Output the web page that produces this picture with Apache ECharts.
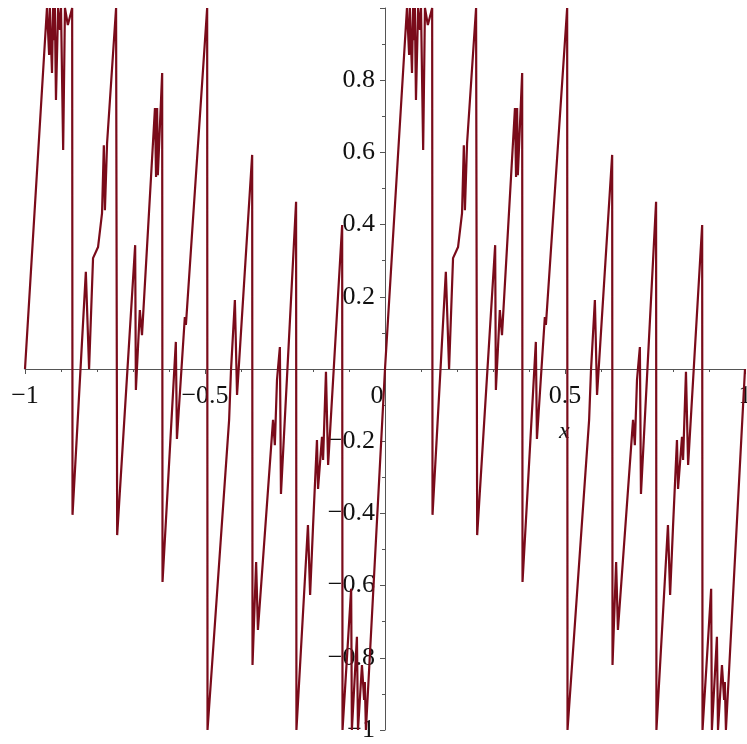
<!DOCTYPE html>
<html>
<head>
<meta charset="utf-8">
<script src="https://cdn.jsdelivr.net/npm/echarts@6/dist/echarts.min.js"></script>
<style>html,body{margin:0;padding:0;background:#fff}#c{width:747px;height:744px}</style>
</head>
<body>
<div id="c"></div>
<script>
// x in [-1, 0]
const leftX = [-1, -0.939, -0.933, -0.931, -0.925, -0.922, -0.919, -0.917, -0.914, -0.908, -0.903, -0.900, -0.894, -0.889, -0.881, -0.869, -0.868, -0.831, -0.822, -0.811, -0.797, -0.786, -0.781, -0.778, -0.772, -0.747, -0.744, -0.694, -0.692, -0.681, -0.675, -0.639, -0.636, -0.633, -0.631, -0.619, -0.618, -0.581, -0.578, -0.556, -0.553, -0.494, -0.493, -0.433, -0.428, -0.417, -0.411, -0.369, -0.368, -0.358, -0.353, -0.311, -0.306, -0.300, -0.292, -0.289, -0.247, -0.246, -0.214, -0.208, -0.200, -0.189, -0.186, -0.175, -0.172, -0.164, -0.158, -0.119, -0.118, -0.094, -0.092, -0.078, -0.075, -0.064, -0.058, -0.056, -0.053];
const leftY = [0, 1, 0.870, 1, 0.820, 1, 0.911, 1, 0.745, 1, 0.939, 1, 0.607, 1, 0.953, 1, -0.404, 0.269, 0.0, 0.307, 0.338, 0.432, 0.620, 0.440, 0.626, 1, -0.460, 0.343, -0.058, 0.163, 0.094, 0.723, 0.532, 0.723, 0.537, 0.820, -0.590, 0.075, -0.194, 0.144, 0.122, 1, -1, -0.141, -0.008, 0.191, -0.072, 0.593, -0.820, -0.535, -0.723, -0.141, -0.211, -0.030, 0.061, -0.346, 0.463, -1, -0.432, -0.626, -0.438, -0.197, -0.332, -0.188, -0.252, -0.008, -0.266, 0.399, -1, -0.609, -1, -0.742, -1, -0.820, -0.917, -0.867, -1];
// x in [0, 1]
const rightX = [0, 0.061, 0.067, 0.069, 0.075, 0.078, 0.081, 0.083, 0.086, 0.092, 0.097, 0.100, 0.106, 0.111, 0.119, 0.131, 0.132, 0.169, 0.178, 0.189, 0.203, 0.214, 0.219, 0.222, 0.228, 0.253, 0.256, 0.306, 0.308, 0.319, 0.325, 0.361, 0.364, 0.367, 0.369, 0.381, 0.382, 0.419, 0.422, 0.444, 0.447, 0.506, 0.507, 0.567, 0.572, 0.583, 0.589, 0.631, 0.632, 0.642, 0.647, 0.689, 0.694, 0.700, 0.708, 0.711, 0.753, 0.754, 0.786, 0.792, 0.800, 0.811, 0.814, 0.825, 0.828, 0.836, 0.842, 0.881, 0.882, 0.906, 0.908, 0.922, 0.925, 0.936, 0.942, 0.944, 0.947, 1.0];
const rightY = [0, 1, 0.870, 1, 0.820, 1, 0.911, 1, 0.745, 1, 0.939, 1, 0.607, 1, 0.953, 1, -0.404, 0.269, 0.0, 0.307, 0.338, 0.432, 0.620, 0.440, 0.626, 1, -0.460, 0.343, -0.058, 0.163, 0.094, 0.723, 0.532, 0.723, 0.537, 0.820, -0.590, 0.075, -0.194, 0.144, 0.122, 1, -1, -0.141, -0.008, 0.191, -0.072, 0.593, -0.820, -0.535, -0.723, -0.141, -0.211, -0.030, 0.061, -0.346, 0.463, -1, -0.432, -0.626, -0.438, -0.197, -0.332, -0.188, -0.252, -0.008, -0.266, 0.399, -1, -0.609, -1, -0.742, -1, -0.820, -0.917, -0.867, -1, 0];
const xTickLabels = {'-1': '−1', '-0.5': '−0.5', '0': '0', '0.5': '0.5', '1': '1'};

const points = [];
leftX.forEach((x, i) => points.push([x, leftY[i]]));
rightX.forEach((x, i) => points.push([x, rightY[i]]));

const fontFamily = '"Liberation Serif", "DejaVu Serif", serif';
const FS = 26;
const chart = echarts.init(document.getElementById('c'), null, {renderer: 'canvas'});
chart.setOption({
  animation: false,
  backgroundColor: '#ffffff',
  grid: {left: 25, right: 2, top: 8, bottom: 14, containLabel: false, outerBoundsMode: 'none'},
  xAxis: {
    type: 'value', min: -1, max: 1, interval: 0.5,
    position: 'bottom', offset: -361,
    axisLine: {onZero: false, lineStyle: {color: '#555', width: 1}},
    axisTick: {show: true, length: 5, lineStyle: {color: '#555'}},
    minorTick: {show: true, splitNumber: 5, length: 3, lineStyle: {color: '#555'}},
    splitLine: {show: false},
    axisLabel: {
      margin: 14, color: '#111', fontFamily, fontSize: FS, hideOverlap: false,
      formatter: v => {
        const s = xTickLabels[String(Math.round(v * 10) / 10)] || '';
        return v === 0 ? '{z|' + s + '}' : s;
      },
      rich: {z: {fontFamily, fontSize: FS, color: '#111', padding: [0, 16, 0, 0]}}
    }
  },
  yAxis: {
    type: 'value', min: -1, max: 1, interval: 0.2,
    position: 'left', offset: -360,
    axisLine: {onZero: false, lineStyle: {color: '#555', width: 1}},
    axisTick: {show: true, length: 5, lineStyle: {color: '#555'}},
    minorTick: {show: true, splitNumber: 2, length: 3, lineStyle: {color: '#555'}},
    splitLine: {show: false},
    axisLabel: {
      margin: 10, color: '#111', fontFamily, fontSize: FS, hideOverlap: false,
      formatter: v => {
        const r = Math.round(v * 10) / 10;
        if (r === 0 || r === 1) return '';
        return r < 0 ? '−' + String(-r) : String(r);
      }
    }
  },
  graphic: [{
    type: 'text', left: 559, top: 420,
    style: {text: 'x', font: 'italic 24px "Liberation Serif", serif', fill: '#111'}
  }],
  series: [{
    type: 'line', data: points, showSymbol: false, symbol: 'none',
    lineStyle: {color: '#7a0b1a', width: 2.2}, clip: true
  }]
});
</script>
</body>
</html>
